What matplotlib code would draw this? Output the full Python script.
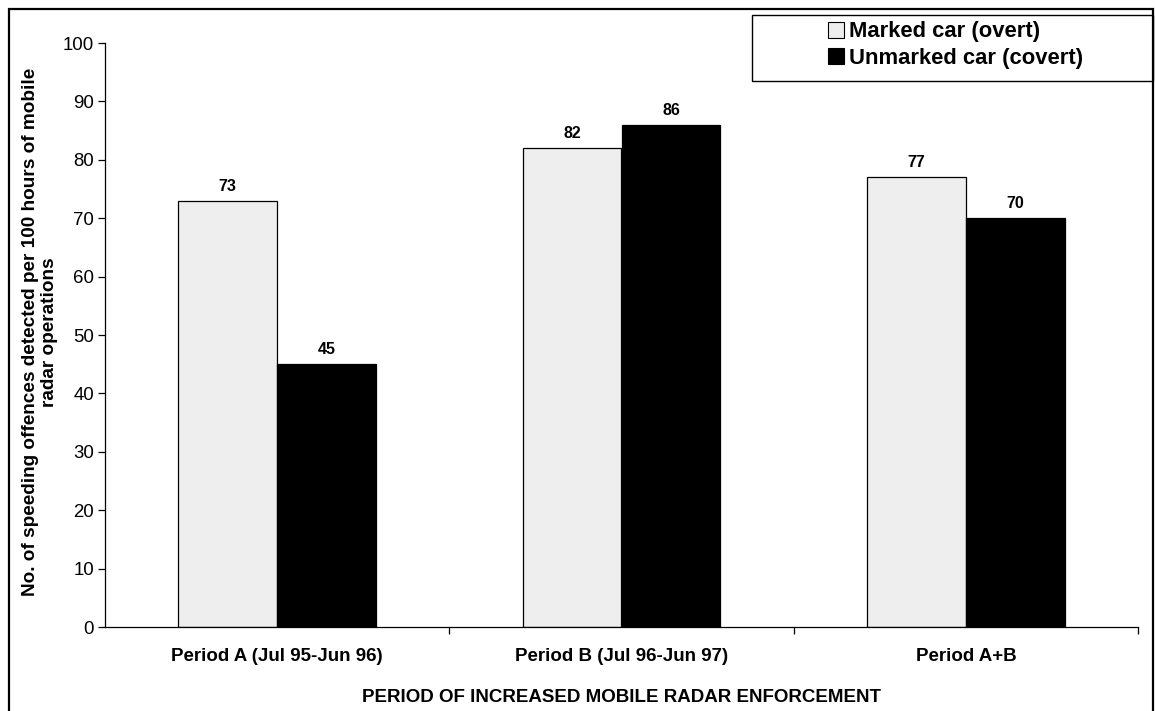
import numpy as np
import matplotlib
matplotlib.use('Agg')
import matplotlib.pyplot as plt
import matplotlib.patches as mpatches

plt.rcParams['font.family'] = ['Liberation Sans', 'DejaVu Sans']

periodos = ['Period A (Jul 95-Jun 96)', 'Period B (Jul 96-Jun 97)', 'Period A+B']
marcado = [73, 82, 77]
nao_marcado = [45, 86, 70]
rotulos_series = ['Marked car (overt)', 'Unmarked car (covert)']
cores_series = ['#eeeeee', '#000000']
titulo_y = 'No. of speeding offences detected per 100 hours of mobile\nradar operations'
titulo_x = 'PERIOD OF INCREASED MOBILE RADAR ENFORCEMENT'

W, H = 1155, 711
fig = plt.figure(figsize=(W / 100, H / 100), dpi=100)
ax = fig.add_axes([105 / W, 1 - 627 / H, (1138 - 105) / W, (627 - 43) / H])

x = np.arange(len(periodos))
largura = 0.2875
for i, (valores, cor) in enumerate(zip([marcado, nao_marcado], cores_series)):
    deslocamento = (i - 0.5) * largura
    ax.bar(x + deslocamento, valores, largura, color=cor, edgecolor='black',
           linewidth=0.9, zorder=2)
    for xi, v in zip(x + deslocamento, valores):
        ax.annotate(f'{v:.0f}', (xi, v), xytext=(0, 5), textcoords='offset points',
                    ha='center', va='bottom', fontsize=11.5, fontweight='bold')

ax.set_xlim(-0.5, 2.5)
ax.set_ylim(0, 100)
ax.set_yticks(range(0, 101, 10))
ax.tick_params(axis='y', direction='out', length=5, width=0.9, labelsize=13.4, pad=3)
ax.set_xticks(x)
ax.set_xticklabels(periodos, fontweight='bold', fontsize=13.5)
ax.set_xticks([0.5, 1.5, 2.5], minor=True)
ax.tick_params(axis='x', which='major', length=0, pad=15)
ax.tick_params(axis='x', which='minor', direction='out', length=5, width=0.9)
for lado in ['top', 'right']:
    ax.spines[lado].set_visible(False)
for lado in ['left', 'bottom']:
    ax.spines[lado].set_linewidth(0.9)

fig.text(40 / W, 1 - 332 / H, titulo_y, rotation=90, ha='center', va='center',
         multialignment='center', fontsize=13.7, fontweight='bold', linespacing=1.1)
fig.text((105 + 1138) / 2 / W, 1 - 697 / H, titulo_x, ha='center', va='center',
         fontsize=13.5, fontweight='bold')

# moldura externa do grafico
fig.patches.append(mpatches.Rectangle((9 / W, -0.05), (1153 - 9) / W, 1.05 - 9 / H,
                                      transform=fig.transFigure, fill=False,
                                      edgecolor='black', linewidth=1.6))

# caixa da legenda
caixa = (752 / W, 1 - 81 / H, (1153 - 752) / W, 66 / H)
fig.patches.append(mpatches.Rectangle(caixa[:2], caixa[2], caixa[3],
                                      transform=fig.transFigure, fill=False,
                                      edgecolor='black', linewidth=1.0))
handles = [mpatches.Patch(facecolor=c, edgecolor='black', linewidth=0.8, label=r)
           for c, r in zip(cores_series, rotulos_series)]
ax.legend(handles=handles, loc='center',
          bbox_to_anchor=(caixa[0] + 3 / W, caixa[1] + 3 / H, caixa[2], caixa[3]),
          bbox_transform=fig.transFigure, frameon=False,
          prop={'weight': 'bold', 'size': 15.8}, handlelength=0.75, handleheight=0.75,
          handletextpad=0.2, labelspacing=0.25, borderaxespad=0)

fig.savefig('out.png', dpi=100)
